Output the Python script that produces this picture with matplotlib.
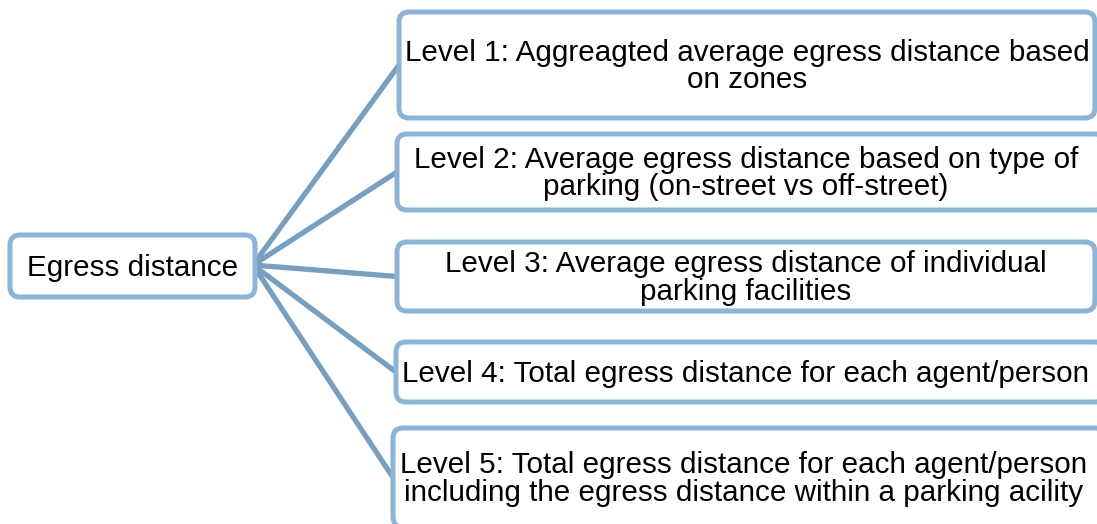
import matplotlib
matplotlib.use("Agg")
import matplotlib.pyplot as plt
from matplotlib.patches import FancyBboxPatch

plt.rcParams["font.family"] = ["Liberation Sans", "DejaVu Sans"]

root_label = "Egress distance"
level_labels = [
    "Level 1: Aggreagted average egress distance based\non zones",
    "Level 2: Average egress distance based on type of\nparking (on-street vs off-street)",
    "Level 3: Average egress distance of individual\nparking facilities",
    "Level 4: Total egress distance for each agent/person",
    "Level 5: Total egress distance for each agent/person\nincluding the egress distance within a parking acility",
]

# layout in pixel units (y grows downward)
root_box = (10, 235, 255, 297)
level_boxes = [
    (399, 12, 1095, 118),
    (397, 134, 1105, 210),
    (397, 242, 1095, 311),
    (396, 342, 1105, 402),
    (393, 428, 1105, 527),
]
hub = (253, 265)

box_color = "#8bb4d7"
line_color = "#789fc0"

fig = plt.figure(figsize=(10.97, 5.24), dpi=100)
ax = fig.add_axes([0, 0, 1, 1])
ax.set_xlim(0, 1097)
ax.set_ylim(524, 0)
ax.axis("off")


def draw_box(x0, y0, x1, y1, text):
    patch = FancyBboxPatch((x0, y0), x1 - x0, y1 - y0,
                           boxstyle="round,pad=0,rounding_size=10",
                           facecolor="white", edgecolor=box_color,
                           linewidth=3.6, zorder=3)
    ax.add_patch(patch)
    cx = (x0 + min(x1, 1095)) / 2
    ax.text(cx, (y0 + y1) / 2 + 1.5, text, ha="center", va="center",
            fontsize=21.3, linespacing=0.96, color="black", zorder=4)


for (x0, y0, x1, y1) in level_boxes:
    ax.plot([hub[0], x0], [hub[1], (y0 + y1) / 2], color=line_color,
            linewidth=3.8, solid_capstyle="butt", zorder=2)

draw_box(*root_box, root_label)
for box, label in zip(level_boxes, level_labels):
    draw_box(*box, label)

fig.savefig("out.png", dpi=100)
